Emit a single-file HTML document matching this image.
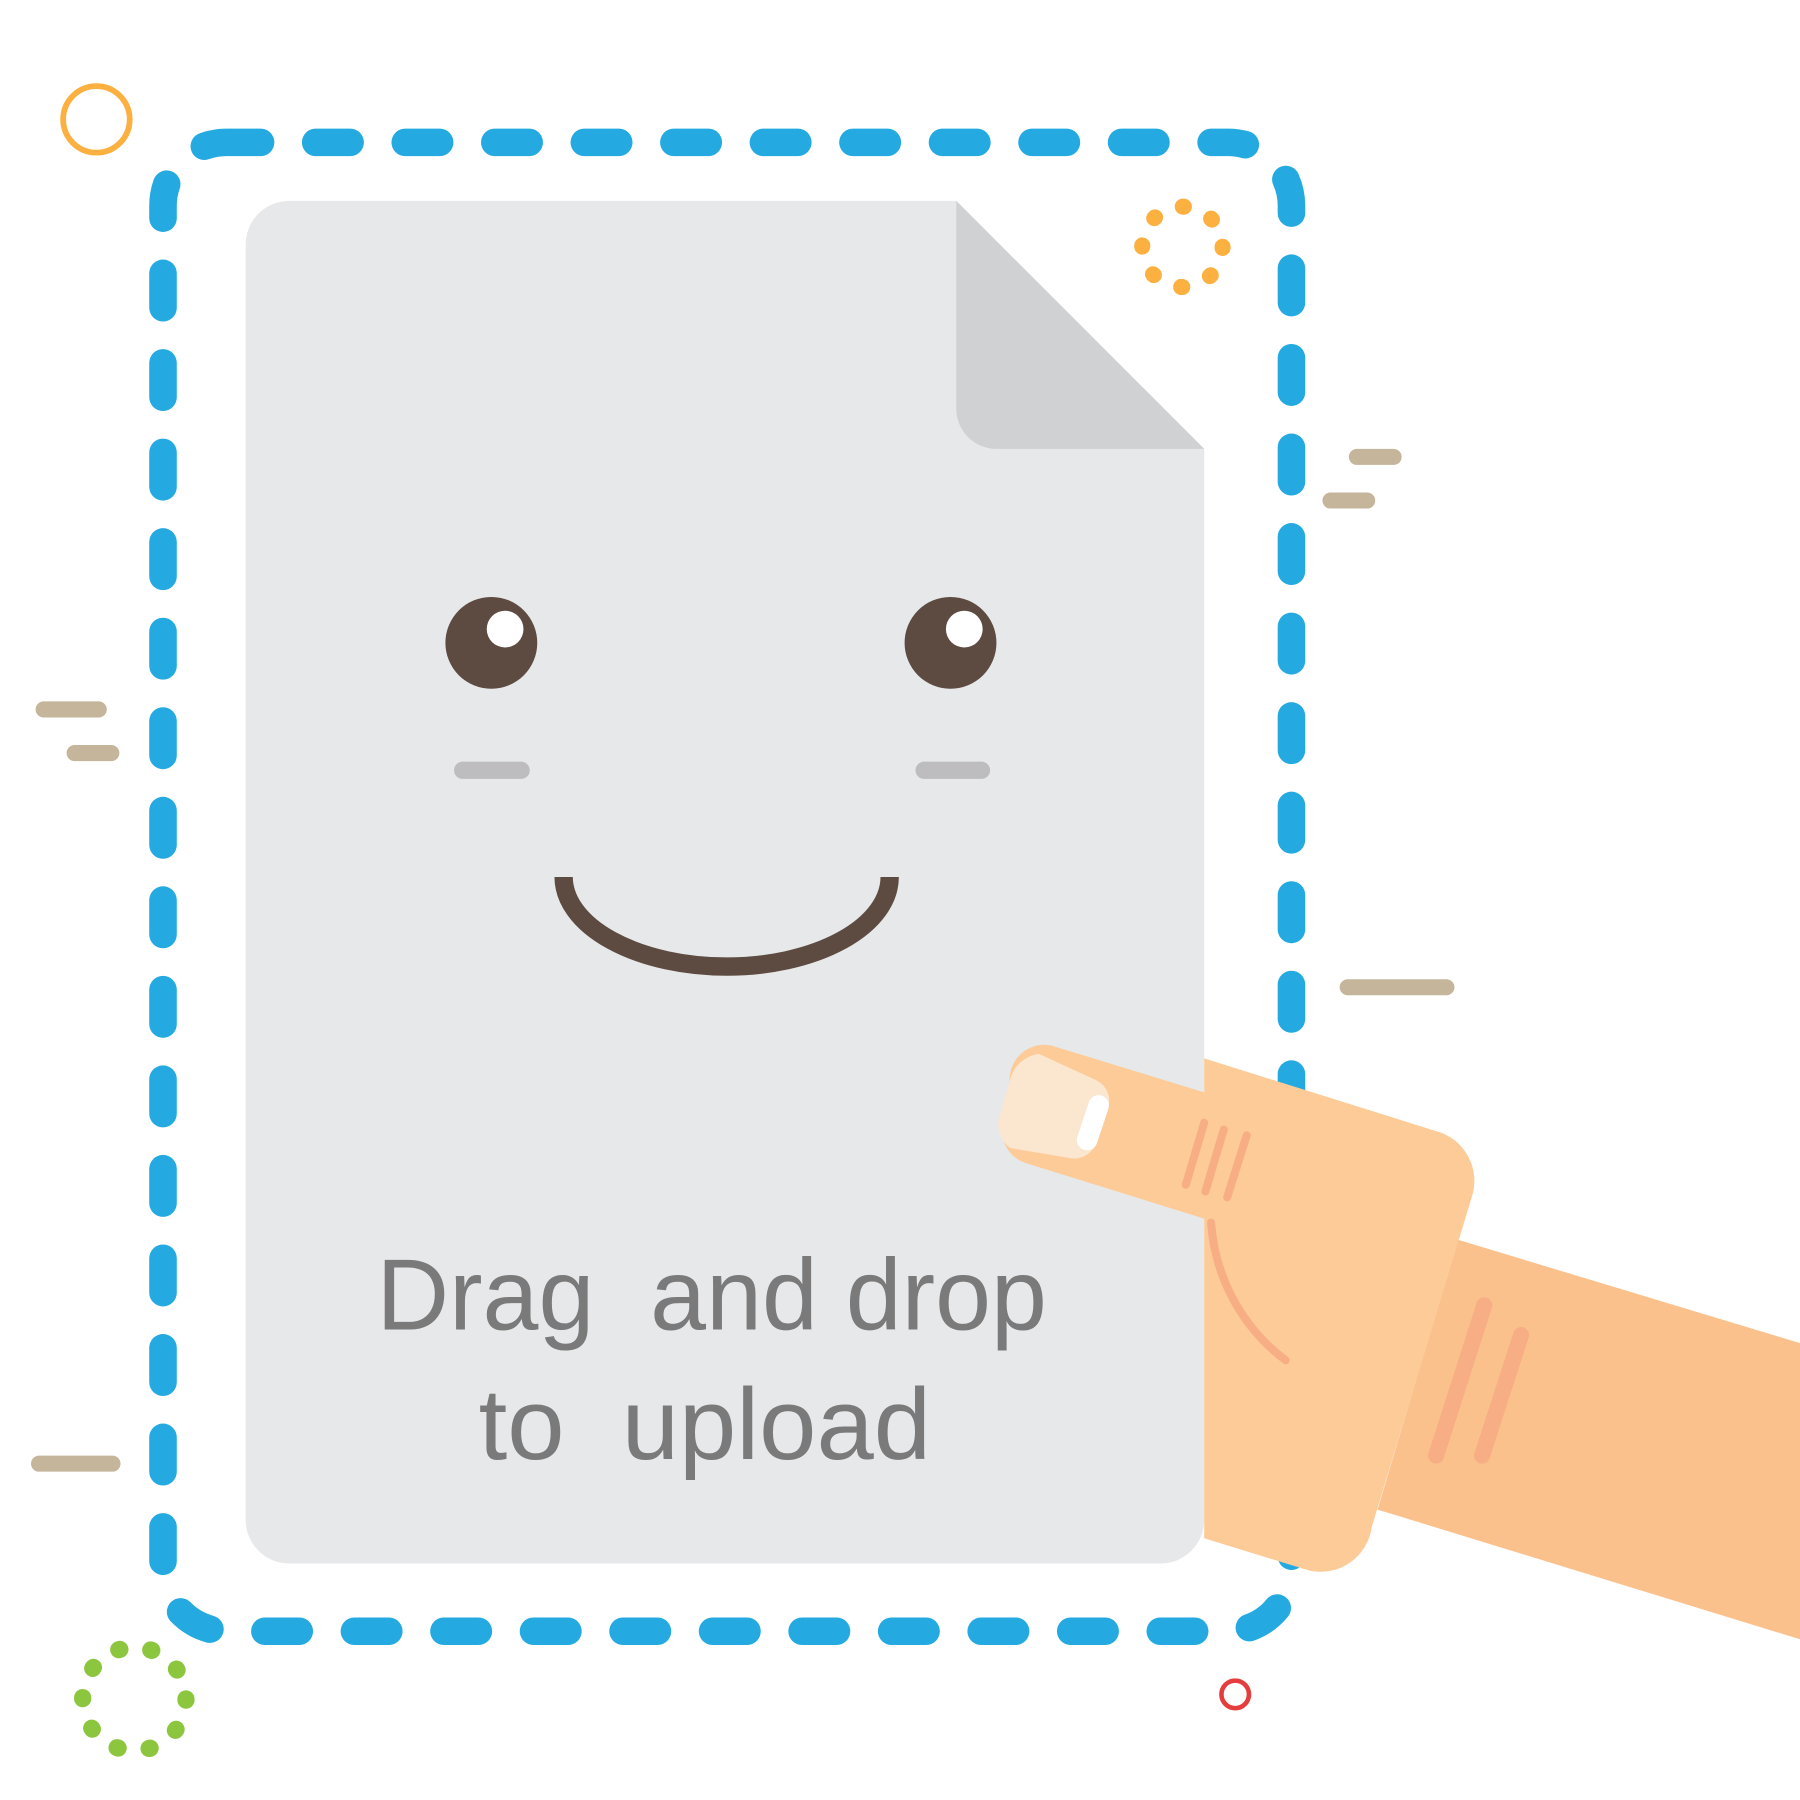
<!DOCTYPE html>
<html><head><meta charset="utf-8"><style>html,body{margin:0;padding:0;background:#fff}svg{display:block}</style></head>
<body>
<svg width="1800" height="1800" viewBox="0 0 1568 1568" xmlns="http://www.w3.org/2000/svg">
<rect x="142" y="124" width="983" height="1297" rx="55" fill="none" stroke="#24a9e1" stroke-width="24" stroke-linecap="round" stroke-dasharray="30 48"/>
<path d="M252,175 H833 L1049,391 V1324 a38,38 0 0 1 -38,38 H252 a38,38 0 0 1 -38,-38 V213 a38,38 0 0 1 38,-38 Z" fill="#e7e8ea"/>
<path d="M833,175 L1049,391 H868 a35,35 0 0 1 -35,-35 Z" fill="#d0d1d3"/>
<circle cx="428" cy="560" r="40" fill="#5d4a40"/><circle cx="440" cy="548" r="16" fill="#fff"/>
<circle cx="828" cy="560" r="40" fill="#5d4a40"/><circle cx="840" cy="548" r="16" fill="#fff"/>
<g stroke="#bdbdbf" stroke-width="15" stroke-linecap="round"><line x1="403" y1="671" x2="454" y2="671"/><line x1="805" y1="671" x2="855" y2="671"/></g>
<path d="M491,764 A142,78 0 0 0 775,764" fill="none" stroke="#5d4a40" stroke-width="16"/>
<text x="620" y="1158" text-anchor="middle" font-family="Liberation Sans, sans-serif" font-size="88" fill="#7a7a7a" textLength="584" lengthAdjust="spacingAndGlyphs" xml:space="preserve">Drag  and drop</text>
<text x="614" y="1271" text-anchor="middle" font-family="Liberation Sans, sans-serif" font-size="88" fill="#7a7a7a" textLength="394" lengthAdjust="spacingAndGlyphs" xml:space="preserve">to  upload</text>
<path d="M1270,1080 L1568,1170 V1428 L1200,1315 Z" fill="#fbc18d"/>
<path d="M1049,922 L1250,985 a45,45 0 0 1 32,58 L1195,1330 a45,45 0 0 1 -55,38 L1049,1340 Z" fill="#fdcb98"/>
<path d="M920,912 L1060,955 L1060,1065 L893,1013 a30,30 0 0 1 -20,-25 L880,935 a30,30 0 0 1 40,-23 Z" fill="#fdcb98"/>
<path d="M905,918 L955,941 a20,20 0 0 1 10,25 L955,995 a20,20 0 0 1 -22,14 L880,1000 a25,25 0 0 1 -10,-25 L880,940 a30,30 0 0 1 25,-22 Z" fill="#fbe6d0"/>
<line x1="957" y1="963" x2="947" y2="993" stroke="#fff" stroke-width="18" stroke-linecap="round"/>
<g stroke="#f7ae84" stroke-width="7" stroke-linecap="round" fill="none">
<line x1="1049" y1="978" x2="1033" y2="1032"/><line x1="1066" y1="984" x2="1050" y2="1038"/><line x1="1086" y1="989" x2="1069" y2="1043"/>
<path d="M1055,1065 C1058,1110 1080,1155 1120,1185"/>
</g>
<g stroke="#f7ae84" stroke-width="14" stroke-linecap="round"><line x1="1293" y1="1137" x2="1251" y2="1268"/><line x1="1325" y1="1163" x2="1291" y2="1268"/></g>
<circle cx="84" cy="104" r="29" fill="none" stroke="#fbb040" stroke-width="5"/>
<circle cx="1076" cy="1476" r="12" fill="none" stroke="#e53d3d" stroke-width="4"/>
<circle cx="1030" cy="215" r="35" fill="none" stroke="#fbb040" stroke-width="14" stroke-linecap="round" stroke-dasharray="1 26.5"/>
<circle cx="117" cy="1480" r="45" fill="none" stroke="#8cc63f" stroke-width="15" stroke-linecap="round" stroke-dasharray="1 27.3"/>
<g stroke="#c4b59b" stroke-width="14" stroke-linecap="round">
<line x1="1182" y1="398" x2="1214" y2="398"/><line x1="1159" y1="436" x2="1191" y2="436"/>
<line x1="38" y1="618" x2="86" y2="618"/><line x1="65" y1="656" x2="97" y2="656"/>
<line x1="1174" y1="860" x2="1260" y2="860"/><line x1="34" y1="1275" x2="98" y2="1275"/>
</g>
</svg>
</body></html>
